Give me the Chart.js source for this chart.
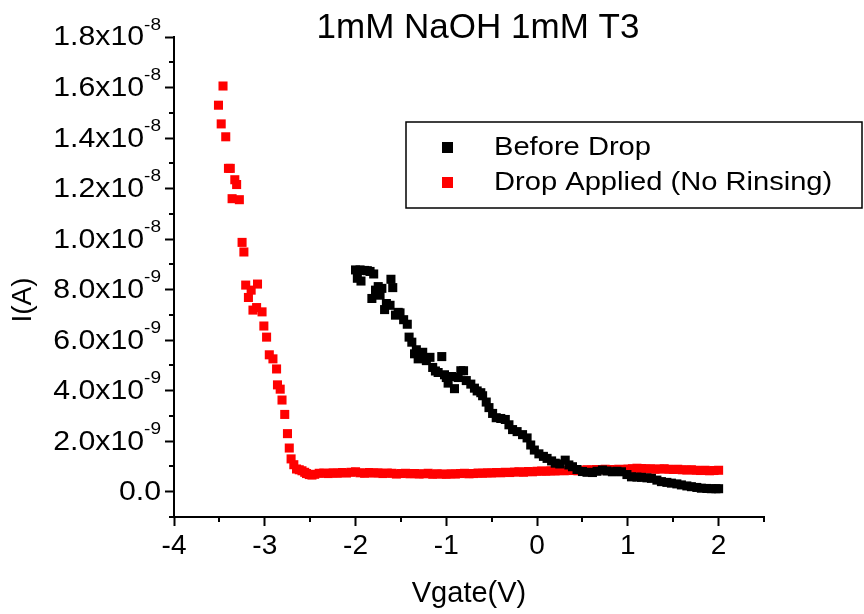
<!DOCTYPE html>
<html>
<head>
<meta charset="utf-8">
<script src="https://cdn.jsdelivr.net/npm/chart.js@4.4.1/dist/chart.umd.min.js"></script>
<style>
  html, body { margin: 0; padding: 0; background: #fff; }
  canvas { display: block; }
</style>
</head>
<body>
<canvas id="chart" width="864" height="614"></canvas>
<script>
// gate voltage (V) and current in units of 1e-9 A
const beforeX = [-2.00, -1.98, -1.95, -1.94, -1.90, -1.87, -1.84, -1.82, -1.80, -1.78, -1.75, -1.73, -1.71, -1.68, -1.66, -1.62, -1.61, -1.59, -1.56, -1.53, -1.51, -1.47, -1.43, -1.41, -1.38, -1.35, -1.33, -1.31, -1.28, -1.26, -1.22, -1.18, -1.15, -1.12, -1.09, -1.05, -1.02, -1.00, -0.98, -0.94, -0.91, -0.87, -0.84, -0.81, -0.78, -0.73, -0.69, -0.66, -0.62, -0.60, -0.56, -0.53, -0.49, -0.45, -0.40, -0.35, -0.31, -0.27, -0.22, -0.16, -0.11, -0.07, -0.03, 0.02, 0.07, 0.11, 0.16, 0.20, 0.25, 0.31, 0.35, 0.39, 0.44, 0.50, 0.55, 0.61, 0.66, 0.72, 0.77, 0.83, 0.88, 0.93, 0.99, 1.04, 1.10, 1.15, 1.21, 1.26, 1.32, 1.37, 1.43, 1.48, 1.54, 1.59, 1.65, 1.70, 1.76, 1.81, 1.87, 1.92, 1.97, 2.00];
const beforeY = [8.78, 8.45, 8.78, 8.34, 8.76, 8.75, 8.72, 7.65, 8.62, 7.98, 8.12, 7.78, 8.05, 7.21, 7.45, 7.38, 8.41, 8.08, 6.99, 7.10, 7.08, 6.81, 6.63, 6.12, 5.92, 5.46, 5.62, 5.26, 5.40, 5.52, 5.19, 5.32, 4.92, 4.78, 4.72, 5.35, 4.63, 4.52, 4.30, 4.56, 4.08, 4.52, 4.79, 4.79, 4.40, 4.26, 4.10, 3.99, 3.92, 3.80, 3.55, 3.33, 3.10, 2.93, 2.90, 2.86, 2.65, 2.46, 2.38, 2.26, 2.13, 1.85, 1.65, 1.50, 1.40, 1.32, 1.22, 1.13, 1.10, 1.25, 1.06, 0.99, 0.88, 0.80, 0.77, 0.76, 0.81, 0.86, 0.82, 0.79, 0.81, 0.79, 0.68, 0.59, 0.58, 0.57, 0.55, 0.53, 0.46, 0.40, 0.37, 0.34, 0.31, 0.27, 0.23, 0.20, 0.17, 0.14, 0.13, 0.12, 0.12, 0.12];

const dropX = [-3.46, -3.51, -3.48, -3.43, -3.40, -3.38, -3.33, -3.31, -3.36, -3.28, -3.25, -3.23, -3.21, -3.08, -3.15, -3.18, -3.13, -3.09, -3.03, -3.01, -2.98, -2.95, -2.91, -2.87, -2.86, -2.83, -2.81, -2.78, -2.75, -2.73, -2.71, -2.68, -2.65, -2.62, -2.59, -2.56, -2.54, -2.51, -2.48, -2.45, -2.40, -2.35, -2.30, -2.25, -2.20, -2.15, -2.10, -2.05, -2.00, -1.95, -1.90, -1.85, -1.80, -1.75, -1.70, -1.65, -1.60, -1.55, -1.50, -1.45, -1.40, -1.35, -1.30, -1.25, -1.20, -1.15, -1.10, -1.05, -1.00, -0.95, -0.90, -0.85, -0.80, -0.75, -0.70, -0.65, -0.60, -0.55, -0.50, -0.45, -0.40, -0.35, -0.30, -0.25, -0.20, -0.15, -0.10, -0.05, 0.00, 0.05, 0.10, 0.15, 0.20, 0.25, 0.30, 0.35, 0.40, 0.45, 0.50, 0.55, 0.60, 0.65, 0.70, 0.75, 0.80, 0.85, 0.90, 0.95, 1.00, 1.05, 1.10, 1.15, 1.20, 1.25, 1.30, 1.35, 1.40, 1.45, 1.50, 1.55, 1.60, 1.65, 1.70, 1.75, 1.80, 1.85, 1.90, 1.95, 2.00];
const dropY = [16.06, 15.30, 14.56, 14.05, 12.80, 12.80, 12.35, 12.16, 11.60, 11.56, 9.87, 9.49, 8.18, 8.22, 7.98, 7.69, 7.19, 7.29, 7.12, 6.56, 6.12, 5.42, 5.26, 4.86, 4.23, 4.06, 3.63, 3.06, 2.30, 1.73, 1.30, 1.07, 0.90, 0.87, 0.83, 0.77, 0.72, 0.68, 0.66, 0.69, 0.73, 0.74, 0.72, 0.75, 0.73, 0.76, 0.74, 0.77, 0.79, 0.75, 0.73, 0.76, 0.74, 0.75, 0.72, 0.74, 0.73, 0.70, 0.72, 0.73, 0.71, 0.72, 0.70, 0.71, 0.73, 0.69, 0.71, 0.70, 0.69, 0.71, 0.70, 0.72, 0.73, 0.71, 0.72, 0.74, 0.73, 0.75, 0.74, 0.76, 0.75, 0.77, 0.76, 0.78, 0.79, 0.77, 0.80, 0.79, 0.81, 0.82, 0.81, 0.83, 0.82, 0.84, 0.83, 0.85, 0.84, 0.83, 0.85, 0.87, 0.86, 0.88, 0.87, 0.89, 0.88, 0.87, 0.89, 0.88, 0.90, 0.91, 0.93, 0.92, 0.90, 0.91, 0.89, 0.90, 0.91, 0.89, 0.88, 0.89, 0.87, 0.86, 0.87, 0.85, 0.84, 0.85, 0.83, 0.84, 0.85];

const xTicks = [-4, -3, -2, -1, 0, 1, 2];
const xMinorTicks = [-3.5, -2.5, -1.5, -0.5, 0.5, 1.5, 2.5];
const yTicks = [0, 2, 4, 6, 8, 10, 12, 14, 16, 18];
const yMinorTicks = [-1, 1, 3, 5, 7, 9, 11, 13, 15, 17];

const FONT = '"Liberation Sans", Arial, sans-serif';
const STRETCH = 1.12; // the original text is a little wide

function toPoints(xs, ys) {
    return xs.map((x, i) => ({ x: x, y: ys[i] }));
}

// y labels like 1.8x10^-8 with a raised exponent
function yLabelParts(v) {
    if (v === 0) return ["0.0", ""];
    if (v >= 10) return [(v / 10).toFixed(1) + "x10", "-8"];
    return [v.toFixed(1) + "x10", "-9"];
}

// left-aligned text, stretched horizontally
function wideText(ctx, text, x, y) {
    ctx.save();
    ctx.translate(x, y);
    ctx.scale(STRETCH, 1);
    ctx.fillText(text, 0, 0);
    ctx.restore();
}

const extras = {
    id: "extras",
    afterDraw(chart) {
        const ctx = chart.ctx;
        const xs = chart.scales.x;
        const ys = chart.scales.y;
        const area = chart.chartArea;
        ctx.save();

        // minor ticks
        ctx.strokeStyle = "#000";
        ctx.lineWidth = 2;
        ctx.beginPath();
        xMinorTicks.forEach(v => {
            const px = Math.round(xs.getPixelForValue(v));
            ctx.moveTo(px, area.bottom);
            ctx.lineTo(px, area.bottom + 5);
        });
        yMinorTicks.forEach(v => {
            const py = Math.round(ys.getPixelForValue(v));
            ctx.moveTo(area.left, py);
            ctx.lineTo(area.left - 5, py);
        });
        ctx.stroke();

        // y tick labels
        ctx.fillStyle = "#000";
        ctx.textBaseline = "middle";
        ctx.textAlign = "left";
        const right = area.left - 13;
        yTicks.forEach(v => {
            const py = ys.getPixelForValue(v);
            const parts = yLabelParts(v);
            ctx.font = "17px " + FONT;
            const ew = parts[1] ? ctx.measureText(parts[1]).width * STRETCH : 0;
            ctx.font = "27px " + FONT;
            const mw = ctx.measureText(parts[0]).width * STRETCH;
            wideText(ctx, parts[0], right - ew - mw, py + 1);
            if (parts[1]) {
                ctx.font = "17px " + FONT;
                wideText(ctx, parts[1], right - ew, py - 12);
            }
        });

        // y axis title
        ctx.save();
        ctx.translate(23, 300);
        ctx.rotate(-Math.PI / 2);
        ctx.textAlign = "center";
        ctx.font = "28px " + FONT;
        ctx.fillText("I(A)", 0, 0);
        ctx.restore();

        // chart title
        ctx.textAlign = "center";
        ctx.textBaseline = "alphabetic";
        ctx.font = "35px " + FONT;
        ctx.fillText("1mM NaOH 1mM T3", 478, 38);

        // legend box
        ctx.lineWidth = 1.5;
        ctx.strokeStyle = "#000";
        ctx.strokeRect(406, 122, 456, 86);
        ctx.textAlign = "left";
        ctx.textBaseline = "middle";
        ctx.font = "26px " + FONT;
        chart.data.datasets.forEach((ds, i) => {
            const cy = 147 + i * 35;
            ctx.fillStyle = ds.backgroundColor;
            ctx.fillRect(442, cy - 5, 11, 11);
            ctx.fillStyle = "#000";
            wideText(ctx, ds.label, 494, cy + 1);
        });

        ctx.restore();
    }
};

new Chart(document.getElementById("chart").getContext("2d"), {
    type: "scatter",
    data: {
        datasets: [
            {
                label: "Before Drop",
                data: toPoints(beforeX, beforeY),
                backgroundColor: "#000000",
                borderColor: "#000000",
                pointStyle: "rect",
                pointRadius: 6.4,
                pointBorderWidth: 0,
                pointHoverRadius: 6.4
            },
            {
                label: "Drop Applied (No Rinsing)",
                data: toPoints(dropX, dropY),
                backgroundColor: "#ff0000",
                borderColor: "#ff0000",
                pointStyle: "rect",
                pointRadius: 6.4,
                pointBorderWidth: 0,
                pointHoverRadius: 6.4
            }
        ]
    },
    options: {
        responsive: false,
        animation: false,
        events: [],
        layout: { padding: { top: 37, left: 0, right: 100, bottom: 0 } },
        plugins: {
            legend: { display: false },
            title: { display: false },
            tooltip: { enabled: false }
        },
        scales: {
            x: {
                type: "linear",
                min: -4,
                max: 2.5,
                afterBuildTicks: (scale) => { scale.ticks = xTicks.map(v => ({ value: v })); },
                afterFit: (scale) => { scale.height = 97; },
                border: { display: true, color: "#000", width: 2 },
                grid: { display: true, drawOnChartArea: false, drawTicks: true, tickLength: 9, tickColor: "#000", tickWidth: 2 },
                ticks: { color: "#000", font: { family: FONT, size: 28 }, padding: 3, maxRotation: 0 },
                title: { display: true, text: "Vgate(V)", color: "#000", font: { family: FONT, size: 29 }, padding: { top: 0, bottom: 3 } }
            },
            y: {
                type: "linear",
                min: -1,
                max: 18,
                afterBuildTicks: (scale) => { scale.ticks = yTicks.map(v => ({ value: v })); },
                afterFit: (scale) => { scale.width = 174; },
                border: { display: true, color: "#000", width: 2 },
                grid: { display: true, drawOnChartArea: false, drawTicks: true, tickLength: 9, tickColor: "#000", tickWidth: 2 },
                ticks: { display: false }
            }
        }
    },
    plugins: [extras]
});
</script>
</body>
</html>
